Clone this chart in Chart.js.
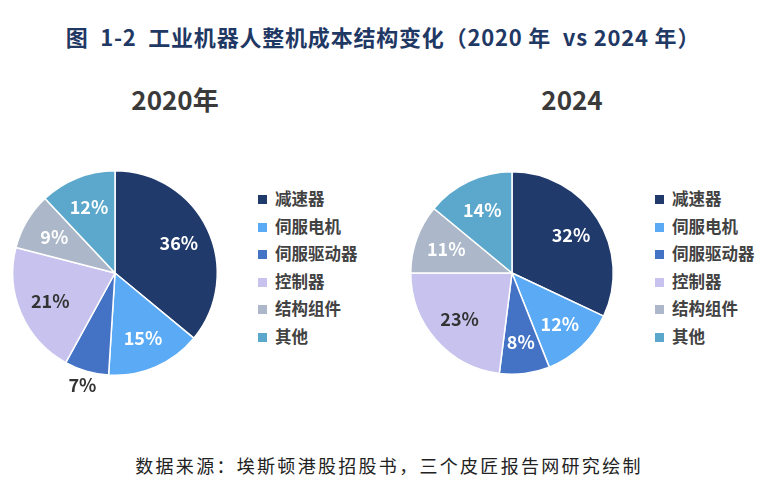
<!DOCTYPE html>
<html>
<head>
<meta charset="utf-8">
<script src="https://cdn.jsdelivr.net/npm/chart.js@4.4.0/dist/chart.umd.min.js"></script>
<style>
  html, body { margin: 0; padding: 0; background: #ffffff; }
  body { width: 778px; height: 485px; position: relative; overflow: hidden;
         font-family: "Noto Sans CJK SC", "Noto Sans", sans-serif; }
  .title { position: absolute; left: 0; width: 766px; top: 20px; text-align: center;
           font-size: 22px; font-weight: bold; color: #1f3864; letter-spacing: 0.8px; }
  .sub { position: absolute; top: 80px; font-size: 26px; font-weight: bold; color: #3a3a3a;
         text-align: center; width: 200px; }
  .src { position: absolute; left: 0; width: 778px; top: 452px; text-align: center;
         font-size: 18px; color: #222; letter-spacing: 2.3px; }
  .pie { position: absolute; }
  .legend { position: absolute; font-size: 16.5px; font-weight: bold; color: #424242; }
  .legend div { height: 27.6px; line-height: 27.6px; white-space: nowrap; }
  .legend span.box { display: inline-block; width: 9px; height: 9px; margin-right: 8px; vertical-align: 1px; }
</style>
</head>
<body>
<div class="title">图&nbsp; 1-2&nbsp; 工业机器人整机成本结构变化（2020 年&nbsp; vs 2024 年）</div>
<div class="sub" id="sub1" style="left:75px;"></div>
<div class="sub" id="sub2" style="left:472px;"></div>
<div class="pie" style="left:0px; top:143px; width:230px; height:260px;"><canvas id="c1"></canvas></div>
<div class="pie" style="left:397px; top:143px; width:230px; height:260px;"><canvas id="c2"></canvas></div>
<div class="legend" id="lg1" style="left:258px; top:185px;"></div>
<div class="legend" id="lg2" style="left:655px; top:185px;"></div>
<div class="src">数据来源：埃斯顿港股招股书，三个皮匠报告网研究绘制</div>
<script>
const categories = ["减速器", "伺服电机", "伺服驱动器", "控制器", "结构组件", "其他"];
const values2020 = [36, 15, 7, 21, 9, 12];
const values2024 = [32, 12, 8, 23, 11, 14];
const panelTitles = ["2020年", "2024"];
const colors = ["#1f3a6b", "#5aaaf5", "#4472c4", "#c7c3ee", "#acb8c9", "#5ba8cc"];
const labelColors = ["#ffffff", "#ffffff", "#ffffff", "#333333", "#ffffff", "#ffffff"];

document.getElementById("sub1").textContent = panelTitles[0];
document.getElementById("sub2").textContent = panelTitles[1];

function buildLegend(id) {
  const el = document.getElementById(id);
  categories.forEach((c, i) => {
    const row = document.createElement("div");
    const b = document.createElement("span");
    b.className = "box"; b.style.background = colors[i];
    row.appendChild(b);
    row.appendChild(document.createTextNode(c));
    el.appendChild(row);
  });
}
buildLegend("lg1"); buildLegend("lg2");

const labelPlugin = {
  id: "sliceLabels",
  afterDatasetsDraw(chart, args, opts) {
    const ctx = chart.ctx;
    const meta = chart.getDatasetMeta(0);
    const data = chart.data.datasets[0].data;
    ctx.save();
    ctx.font = "bold 18px 'Noto Sans CJK SC', sans-serif";
    ctx.textAlign = "center";
    ctx.textBaseline = "middle";
    meta.data.forEach((arc, i) => {
      const p = arc.getProps(["x", "y", "startAngle", "endAngle", "outerRadius"], true);
      const mid = (p.startAngle + p.endAngle) / 2;
      const outside = (opts.outside || []).includes(i);
      const r = p.outerRadius * (outside ? 1.14 : 0.69);
      ctx.fillStyle = outside ? "#333333" : labelColors[i];
      ctx.fillText(data[i] + "%", p.x + r * Math.cos(mid), p.y + r * Math.sin(mid));
    });
    ctx.restore();
  }
};

function makePie(id, values, pad, outside) {
  new Chart(document.getElementById(id), {
    type: "pie",
    data: { labels: categories, datasets: [{ data: values, backgroundColor: colors,
      borderColor: "#ffffff", borderWidth: 1.5 }] },
    options: {
      responsive: true, maintainAspectRatio: false, animation: false,
      layout: { padding: pad },
      plugins: { legend: { display: false }, tooltip: { enabled: false },
                 sliceLabels: { outside: outside } }
    },
    plugins: [labelPlugin]
  });
}
makePie("c1", values2020, 12, [2]);
makePie("c2", values2024, 13, []);
</script>
</body>
</html>
